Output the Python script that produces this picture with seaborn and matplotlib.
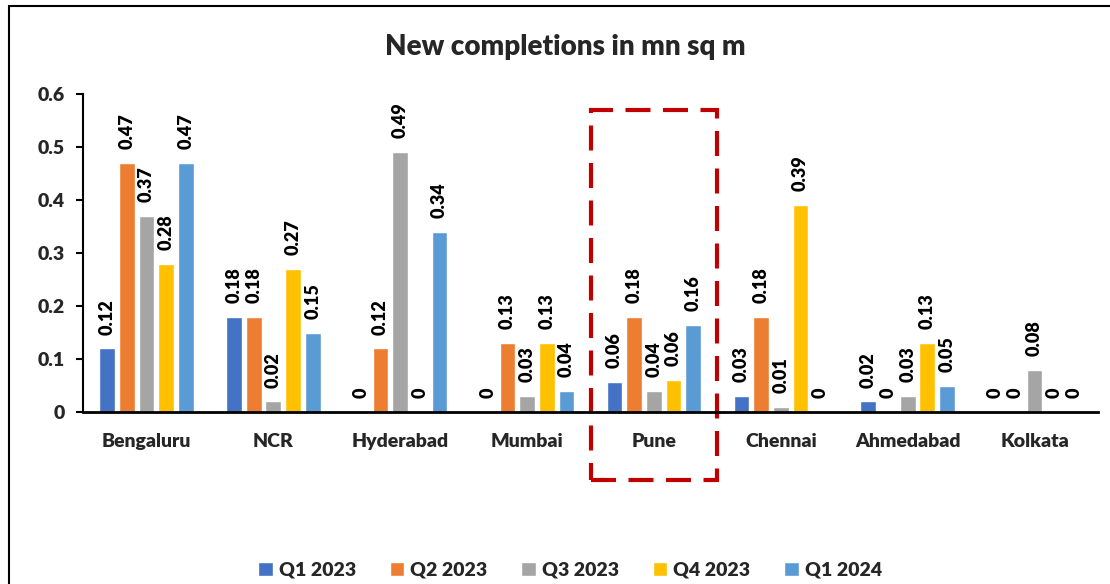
import matplotlib
matplotlib.use('Agg')
import numpy as np
import pandas as pd
import matplotlib.pyplot as plt
from matplotlib.patches import Rectangle
from matplotlib.ticker import FuncFormatter
import seaborn as sns

# Data
cities = ['Bengaluru', 'NCR', 'Hyderabad', 'Mumbai', 'Pune', 'Chennai', 'Ahmedabad', 'Kolkata']
quarters = ['Q1 2023', 'Q2 2023', 'Q3 2023', 'Q4 2023', 'Q1 2024']
q1_2023 = [0.12, 0.18, 0, 0, 0.057, 0.03, 0.02, 0]
q2_2023 = [0.47, 0.18, 0.12, 0.13, 0.18, 0.18, 0, 0]
q3_2023 = [0.37, 0.02, 0.49, 0.03, 0.04, 0.01, 0.03, 0.08]
q4_2023 = [0.28, 0.27, 0, 0.13, 0.06, 0.39, 0.13, 0]
q1_2024 = [0.47, 0.15, 0.34, 0.04, 0.164, 0, 0.05, 0]
colors = ['#4472C4', '#ED7D31', '#A5A5A5', '#FFC000', '#5B9BD5']
highlight = 'Pune'

series = [q1_2023, q2_2023, q3_2023, q4_2023, q1_2024]
df = pd.DataFrame({
    'city': cities * len(quarters),
    'quarter': [q for q in quarters for _ in cities],
    'value': [v for s in series for v in s],
})

WEIGHT = 'heavy'

sns.set_theme(style='white')
plt.rcParams['font.family'] = ['Lato', 'DejaVu Sans']
plt.rcParams['font.weight'] = WEIGHT

fig = plt.figure(figsize=(11.1, 5.84), dpi=100)
ax = fig.add_axes([83 / 1110, 1 - 412 / 584, 1015 / 1110, 318 / 584])

sns.barplot(data=df, x='city', y='value', hue='quarter', palette=colors,
            width=0.775, gap=0.2, saturation=1, ax=ax)

def fmt(v):
    return '0' if v == 0 else f'{v:.2f}'

for cont, vals in zip(ax.containers, series):
    ax.bar_label(cont, labels=[fmt(v) for v in vals], rotation=90, padding=10,
                 fontsize=13, fontweight=WEIGHT, color='black')

ax.set_ylim(0, 0.6)
ax.set_xlim(-0.5, len(cities) - 0.5)
ax.set_yticks(np.arange(0, 0.61, 0.1))
ax.yaxis.set_major_formatter(FuncFormatter(lambda v, p: '0' if abs(v) < 1e-9 else f'{v:.1f}'))
ax.set_xticks(np.arange(-0.5, len(cities), 1), minor=True)
ax.tick_params(axis='x', which='major', length=0, pad=15, labelsize=14)
ax.tick_params(axis='x', which='minor', length=5, width=1.5, direction='out', color='black')
ax.tick_params(axis='y', length=5, width=1.5, direction='out', pad=8, labelsize=14, color='black', left=True)
for lbl in ax.get_xticklabels() + ax.get_yticklabels():
    lbl.set_fontweight(WEIGHT)
ax.set_xlabel('')
ax.set_ylabel('')
sns.despine(ax=ax)
ax.spines['left'].set_color('black')
ax.spines['left'].set_linewidth(1.5)
ax.spines['bottom'].set_color('black')
ax.spines['bottom'].set_linewidth(2)

# legend at the bottom of the figure
handles, labels = ax.get_legend_handles_labels()
ax.get_legend().remove()
fig.legend(handles, labels, loc='center', bbox_to_anchor=(570 / 1110, 1 - 570 / 584),
           ncol=5, frameon=False, handlelength=0.75, handleheight=0.75,
           handletextpad=0.3, columnspacing=1.75, prop={'weight': WEIGHT, 'size': 14})

fig.text(565 / 1110, 1 - 47 / 584, 'New completions in mn sq m', ha='center', va='center',
         fontsize=20, fontweight=WEIGHT)

# dashed box around the highlighted city
idx = cities.index(highlight)
ax.add_patch(Rectangle((idx - 0.5, -0.128), 1, 0.698, fill=False, edgecolor='#C00000',
                       linewidth=3, linestyle=(0, (6, 3)), clip_on=False))

# outer frame of the chart
fig.patches.append(Rectangle((9 / 1110, -0.1), 1.2, 1 - 6 / 584 + 0.1, transform=fig.transFigure,
                             fill=False, edgecolor='black', linewidth=1.5))

fig.savefig('out.png', dpi=100)
